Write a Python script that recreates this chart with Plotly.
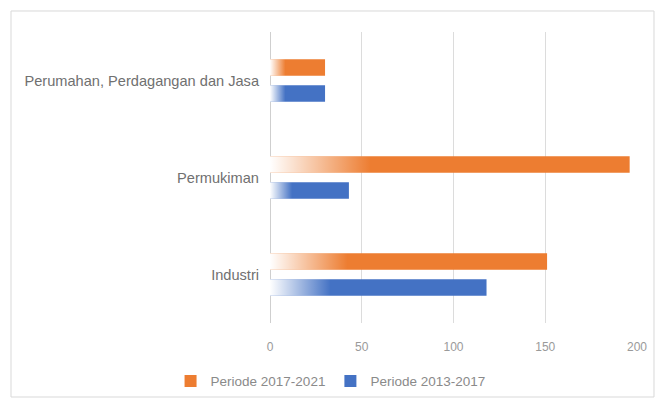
import plotly.graph_objects as go

# Land-use categories (bottom to top) and values per period
categories = ["Industri", "Permukiman", "Perumahan, Perdagangan dan Jasa"]
periode_2017_2021 = [151, 196, 30]
periode_2013_2017 = [118, 43, 30]
x_ticks = [0, 50, 100, 150, 200]

ORANGE = "#ED7D31"
BLUE = "#4472C4"
BAR_W = 0.17
GAP = 0.05

positions = list(range(len(categories)))

fig = go.Figure()

series = [
    ("Periode 2017-2021", periode_2017_2021, ORANGE, GAP, 1),
    ("Periode 2013-2017", periode_2013_2017, BLUE, -GAP - BAR_W, 2),
]

for name, values, color, offset, rank in series:
    fig.add_trace(go.Bar(
        name=name, x=values, y=positions, orientation="h",
        width=BAR_W, offset=offset, marker=dict(color=color, line=dict(width=0)),
        legendrank=rank,
    ))

# White-to-clear fade over the left part of every bar
for name, values, color, offset, rank in series:
    for pos, v in zip(positions, values):
        y0, y1 = pos + offset, pos + offset + BAR_W
        fig.add_trace(go.Scatter(
            x=[0, v, v, 0, 0], y=[y0, y0, y1, y1, y0],
            mode="none", fill="toself",
            fillgradient=dict(
                type="horizontal", start=0, stop=0.28 * v,
                colorscale=[[0, "rgba(255,255,255,1)"],
                            [0.2, "rgba(255,255,255,0.8)"],
                            [1, "rgba(255,255,255,0)"]],
            ),
            showlegend=False, hoverinfo="skip",
        ))

fig.update_layout(
    width=660, height=403,
    margin=dict(l=270, r=23, t=32, b=80, autoexpand=False),
    paper_bgcolor="white", plot_bgcolor="white",
    barmode="overlay",
    font=dict(family="Liberation Sans, Arial, sans-serif", color="#6b6b6b"),
    xaxis=dict(
        range=[0, 200], tickvals=x_ticks,
        showgrid=True, gridcolor="#dcdcdc", gridwidth=1,
        zeroline=True, zerolinecolor="#cfcfcf", zerolinewidth=1,
        showline=False, ticks="",
        tickfont=dict(size=12, color="#9a9a9a"),
        ticklabelstandoff=15,
    ),
    yaxis=dict(
        range=[-0.5, 2.5], tickvals=positions, ticktext=categories,
        showgrid=False, zeroline=False, showline=False, ticks="",
        tickfont=dict(size=14.6, color="#707070"),
        ticklabelstandoff=10,
    ),
    legend=dict(
        orientation="h", x=0.165, xanchor="center", y=-0.2, yanchor="middle",
        font=dict(size=13.5, color="#8a8a8a"), itemwidth=30,
        bgcolor="rgba(0,0,0,0)",
    ),
    shapes=[dict(
        type="rect", xref="paper", yref="paper",
        x0=-0.7057, x1=1.0463, y0=-0.2543, y1=1.0722,
        line=dict(color="#d9d9d9", width=1), fillcolor="rgba(0,0,0,0)", layer="below",
    )],
)

fig.write_html("out.html")
